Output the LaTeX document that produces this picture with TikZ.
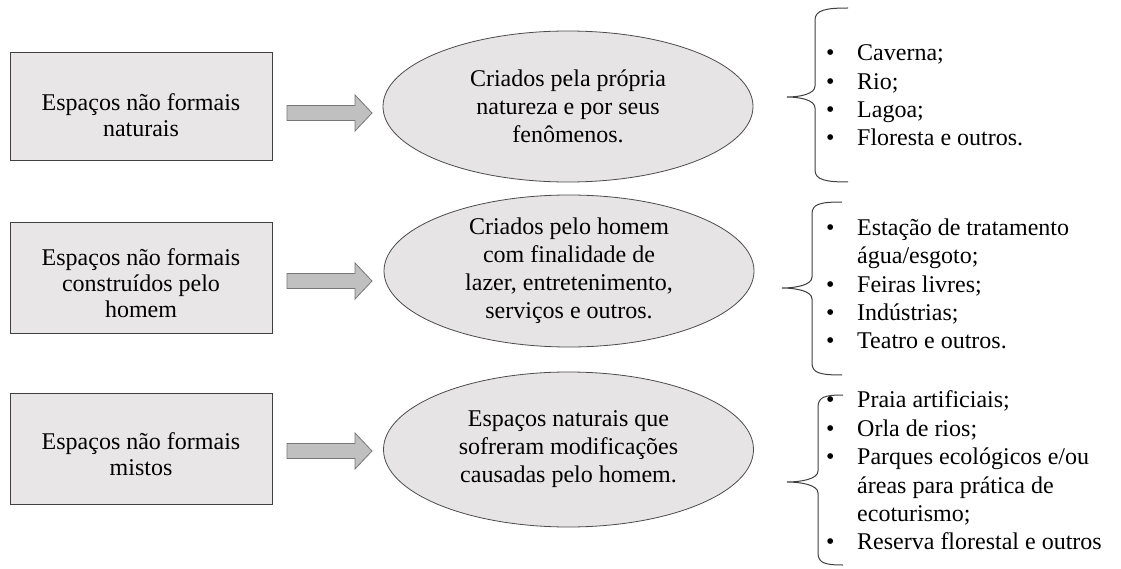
\documentclass[tikz,border=0pt]{standalone}
\usepackage{fontspec}
\setmainfont{Liberation Serif}
\usetikzlibrary{shapes.geometric}
\definecolor{boxfill}{HTML}{E8E6E6}
\definecolor{ellfill}{HTML}{E6E4E4}
\definecolor{arrfill}{HTML}{C0C0C0}
\definecolor{arrline}{HTML}{777777}
\newcommand\bul{\makebox[31pt][l]{\textbullet}}
\begin{document}
\begin{tikzpicture}[x=1pt,y=-1pt,
  catbox/.style={draw=black!75, line width=1pt, fill=boxfill, minimum width=262pt,
    minimum height=#1, inner sep=0pt},
  boxtext/.style={align=center, font=\fontsize{24}{26}\selectfont, inner sep=0pt},
  ell/.style={ellipse, draw=black!70, line width=0.8pt, fill=ellfill, minimum width=370pt,
    minimum height=#1, inner sep=0pt, align=center, font=\fontsize{24}{28}\selectfont},
  listtext/.style={anchor=west, align=left, inner sep=0pt, font=\fontsize{24}{28.4}\selectfont},
  bracepath/.style={draw=black!75, line width=1pt},
  blockarrow/.style={draw=arrline, fill=arrfill, line width=0.8pt},
  barrow/.pic={\draw[blockarrow] (0,-7.5) -- (68,-7.5) -- (68,-18) -- (85,0) -- (68,18) -- (68,7.5) -- (0,7.5) -- cycle;}]
\useasboundingbox (0,0) rectangle (1121,569);
\fill[white] (0,0) rectangle (1121,569);

% left boxes
\node[catbox=108pt] (b1) at (141,107) {};
\node[boxtext] (b1t) at ([yshift=-8pt]b1.center) {Espaços não formais\\naturais};
\node[catbox=110pt] (b2) at (141,278) {};
\node[boxtext] (b2t) at ([yshift=-5pt]b2.center) {Espaços não formais\\construídos pelo\\homem};
\node[catbox=111pt] (b3) at (141,448.5) {};
\node[boxtext] (b3t) at ([yshift=-6pt]b3.center) {Espaços não formais\\mistos};

% block arrows
\pic at (287,113) {barrow};
\pic at (287,281) {barrow};
\pic at (287,451) {barrow};

% ellipses
\node[ell=151pt] (e1) at (568,106.5) {Criados pela própria\\natureza e por seus\\fenômenos.};
\node[ell=152pt] (e2) at (569,271) {Criados pelo homem\\com finalidade de\\lazer, entretenimento,\\serviços e outros.};
\node[ell=155pt] (e3) at (568.5,449.5) {Espaços naturais que\\sofreram modificações\\causadas pelo homem.};

% braces
\draw[bracepath] (848,8) .. controls (826,8) and (815,10) .. (815,20) -- (815,86)
  .. controls (815,94) and (800,97) .. (787,97)
  .. controls (800,97) and (815,100) .. (815,108) -- (815,170)
  .. controls (815,180) and (826,182) .. (848,182);
\draw[bracepath] (842,202) .. controls (820,202) and (812,204) .. (812,214) -- (812,277)
  .. controls (812,285) and (796,288) .. (782,288)
  .. controls (796,288) and (812,291) .. (812,299) -- (812,363)
  .. controls (812,373) and (820,375) .. (842,375);
\draw[bracepath] (843,395) .. controls (825,395) and (818,397) .. (818,407) -- (818,471)
  .. controls (818,479) and (801,482) .. (787,482)
  .. controls (801,482) and (818,485) .. (818,493) -- (818,553)
  .. controls (818,563) and (825,565) .. (843,565);

% lists
\node[listtext] (l1) at (826,95.5) {\bul Caverna;\\\bul Rio;\\\bul Lagoa;\\\bul Floresta e outros.};
\node[listtext] (l2) at (826,284) {\bul Estação de tratamento\\\hspace*{31pt}água/esgoto;\\\bul Feiras livres;\\\bul Indústrias;\\\bul Teatro e outros.};
\node[listtext] (l3) at (826,470.5) {\bul Praia artificiais;\\\bul Orla de rios;\\\bul Parques ecológicos e/ou\\\hspace*{31pt}áreas para prática de\\\hspace*{31pt}ecoturismo;\\\bul Reserva florestal e outros};
\end{tikzpicture}
\end{document}
